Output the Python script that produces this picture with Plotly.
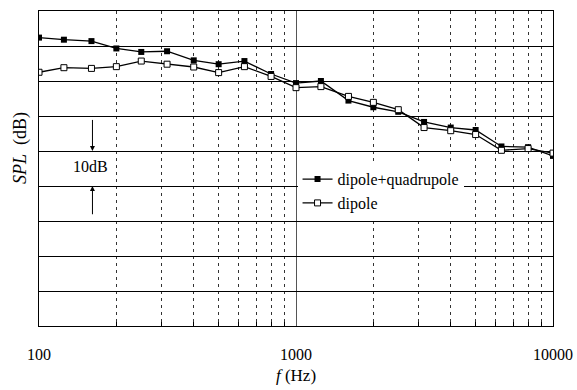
import plotly.graph_objects as go

# 1/3-octave band centre frequencies (Hz)
freq = [100, 125, 160, 200, 250, 315, 400, 500, 630, 800, 1000,
        1250, 1600, 2000, 2500, 3150, 4000, 5000, 6300, 8000, 10000]

# Sound pressure level (dB, relative scale)
spl_dipole_quad = [82.4, 81.8, 81.4, 79.3, 78.3, 78.5, 75.9, 74.8, 75.7, 72.0, 69.4,
                   70.0, 64.4, 62.5, 61.2, 58.3, 56.7, 56.0, 51.3, 51.1, 48.6]
spl_dipole = [72.5, 73.8, 73.6, 74.1, 75.7, 74.8, 74.0, 72.4, 74.1, 71.3, 68.1,
              68.4, 65.6, 63.9, 61.8, 56.7, 55.8, 54.7, 50.2, 50.7, 49.4]

series_names = ["dipole+quadrupole", "dipole"]

x_tick_vals = [100, 1000, 10000]
x_tick_text = ["100", "1000", "10000"]
x_minor_vals = [200, 300, 400, 500, 600, 700, 800, 900,
                2000, 3000, 4000, 5000, 6000, 7000, 8000, 9000]

# 10 dB scale bar between two grid lines
scale_hi, scale_lo = 50, 40

FONT = "Liberation Serif, Times New Roman, serif"

fig = go.Figure()
fig.add_trace(go.Scatter(
    x=freq, y=spl_dipole_quad, name=series_names[0], mode="lines+markers",
    legendgroup="a",
    line=dict(color="black", width=1.3),
    marker=dict(symbol="square", size=6, color="black"),
))
fig.add_trace(go.Scatter(
    x=freq, y=spl_dipole, name=series_names[1], mode="lines+markers",
    legendgroup="b",
    line=dict(color="black", width=1.3),
    marker=dict(symbol="square", size=6, color="white",
                line=dict(color="black", width=1)),
))

ax_x = 2.208  # log10 position of the scale bar

fig.add_annotation(x=ax_x, y=scale_hi, ax=ax_x, ay=scale_hi + 9.3,
                   xref="x", yref="y", axref="x", ayref="y",
                   showarrow=True, arrowhead=2, arrowsize=1, arrowwidth=1,
                   arrowcolor="black", text="")
fig.add_annotation(x=ax_x, y=scale_lo, ax=ax_x, ay=scale_lo - 8.5,
                   xref="x", yref="y", axref="x", ayref="y",
                   showarrow=True, arrowhead=2, arrowsize=1, arrowwidth=1,
                   arrowcolor="black", text="")
fig.add_annotation(x=2.2, y=(scale_hi + scale_lo) / 2 + 0.6, xref="x", yref="y",
                   text="10dB", showarrow=False,
                   font=dict(family=FONT, size=16, color="black"))

# y-axis title, set above the vertical centre of the axis
fig.add_annotation(x=-0.037, y=0.565, xref="paper", yref="paper",
                   text="<i>SPL</i>&nbsp; (dB)", textangle=-90, showarrow=False,
                   xanchor="center", yanchor="middle",
                   font=dict(family=FONT, size=18, color="black"))

fig.update_layout(
    width=577, height=390,
    margin=dict(l=39, r=24, t=11, b=64, autoexpand=False),
    paper_bgcolor="white", plot_bgcolor="white",
    font=dict(family=FONT, size=16, color="black"),
    showlegend=True,
    legend=dict(x=0.503, y=0.52, xanchor="left", yanchor="top",
                bgcolor="white", borderwidth=0, tracegroupgap=0,
                itemwidth=30,
                font=dict(family=FONT, size=16, color="black")),
    xaxis=dict(
        type="log", range=[2, 4], automargin=False,
        tickmode="array", tickvals=x_tick_vals, ticktext=x_tick_text,
        ticks="", ticklabelstandoff=14,
        showgrid=True, gridcolor="#555", gridwidth=1,
        showline=True, mirror=True, linecolor="black", linewidth=1,
        zeroline=False,
        minor=dict(tickmode="array", tickvals=x_minor_vals,
                   ticks="inside", ticklen=4, tickcolor="black",
                   showgrid=True, gridcolor="#333", gridwidth=1,
                   griddash="3px,4px"),
        title=dict(text="<i>f</i> (Hz)", standoff=6,
                   font=dict(family=FONT, size=17, color="black")),
    ),
    yaxis=dict(
        range=[0, 90], dtick=10, tick0=0, automargin=False,
        showticklabels=False, ticks="",
        showgrid=True, gridcolor="black", gridwidth=1,
        showline=True, mirror=True, linecolor="black", linewidth=1,
        zeroline=False,
    ),
)

fig.write_html("out.html")
